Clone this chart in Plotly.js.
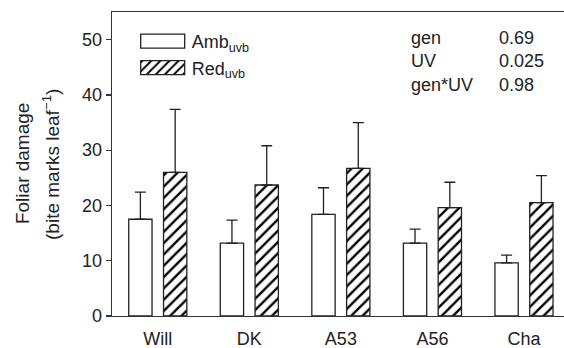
<!DOCTYPE html>
<html>
<head>
<meta charset="utf-8">
<script src="https://cdn.plot.ly/plotly-3.0.1.min.js"></script>
<style>html,body{margin:0;padding:0;background:#fff;}#chart{width:564px;height:348px;}</style>
</head>
<body>
<div id="chart"></div>
<script>
var categories = ['Will', 'DK', 'A53', 'A56', 'Cha'];
var ambValues = [17.5, 13.2, 18.4, 13.2, 9.6];
var ambErrors = [4.9, 4.15, 4.8, 2.5, 1.4];
var redValues = [26.0, 23.7, 26.7, 19.6, 20.5];
var redErrors = [11.4, 7.1, 8.3, 4.6, 4.9];
var yTicks = [0, 10, 20, 30, 40, 50];
var statNames = ['gen', 'UV', 'gen*UV'];
var statValues = ['0.69', '0.025', '0.98'];

var ink = '#222';
var FONT = 'Liberation Sans, Arial, sans-serif';

var traceAmb = {
  type: 'bar', x: categories, y: ambValues, name: 'Amb<sub>uvb</sub>',
  legendgroup: 'a',
  marker: {color: '#fff', line: {color: ink, width: 1.3}},
  error_y: {type: 'data', array: ambErrors, arrayminus: ambErrors.map(function(){return 0;}), symmetric: false,
            color: ink, thickness: 1.3, width: 5.5}
};
var traceRed = {
  type: 'bar', x: categories, y: redValues, name: 'Red<sub>uvb</sub>',
  legendgroup: 'b',
  marker: {color: '#fff', line: {color: ink, width: 1.3},
           pattern: {shape: '/', size: 8, solidity: 0.3, fgcolor: '#000', fgopacity: 1, bgcolor: '#fff', fillmode: 'replace'}},
  error_y: {type: 'data', array: redErrors, arrayminus: redErrors.map(function(){return 0;}), symmetric: false,
            color: ink, thickness: 1.3, width: 5.5}
};

var layout = {
  width: 564, height: 348,
  margin: {l: 112, r: 0, t: 12, b: 32, pad: 0},
  paper_bgcolor: '#fff', plot_bgcolor: '#fff',
  font: {family: FONT, size: 18, color: ink},
  barmode: 'group', bargap: 0.24, bargroupgap: 0.33,
  showlegend: true,
  legend: {x: 0.048, y: 0.964, xanchor: 'left', yanchor: 'top', bgcolor: 'rgba(0,0,0,0)',
           font: {family: FONT, size: 18, color: ink}, traceorder: 'grouped', tracegroupgap: 0,
           itemwidth: 48},
  xaxis: {type: 'category', range: [-0.5, 4.437], showline: true, linecolor: '#333', linewidth: 1.3,
          mirror: true, ticks: '', showgrid: false, zeroline: false, ticklabelstandoff: 6,
          tickfont: {family: FONT, size: 18, color: ink}},
  yaxis: {range: [0, 55], tickvals: yTicks, ticktext: yTicks.map(String), showline: true, linecolor: '#333',
          linewidth: 1.3, ticks: 'outside', ticklen: 5, tickwidth: 1.3, tickcolor: '#333',
          showgrid: false, zeroline: false, tickfont: {family: FONT, size: 18, color: ink}},
  annotations: [
    {xref: 'paper', yref: 'paper', x: 0.657, y: 0.8365, xanchor: 'left', yanchor: 'middle', align: 'left',
     showarrow: false, text: statNames.join('<br>'), font: {family: FONT, size: 18, color: ink}},
    {xref: 'paper', yref: 'paper', x: 0.851, y: 0.8365, xanchor: 'left', yanchor: 'middle', align: 'left',
     showarrow: false, text: statValues.join('<br>'), font: {family: FONT, size: 18, color: ink}},
    {xref: 'paper', yref: 'paper', x: -0.199, y: 0.5, xanchor: 'center', yanchor: 'middle', textangle: -90,
     showarrow: false, text: 'Foliar damage', font: {family: FONT, size: 19, color: ink}},
    {xref: 'paper', yref: 'paper', x: -0.135, y: 0.5, xanchor: 'center', yanchor: 'middle', textangle: -90,
     showarrow: false, text: '(bite marks leaf<sup>−1</sup>)', font: {family: FONT, size: 19, color: ink}}
  ]
};

Plotly.newPlot('chart', [traceAmb, traceRed], layout, {displayModeBar: false, staticPlot: true}).then(function(gd){
  var pts = gd.querySelectorAll('.legend .legendpoints path');
  pts.forEach(function(p){ p.setAttribute('d', 'M-22,-7H22V7H-22Z'); });
});
</script>
</body>
</html>
